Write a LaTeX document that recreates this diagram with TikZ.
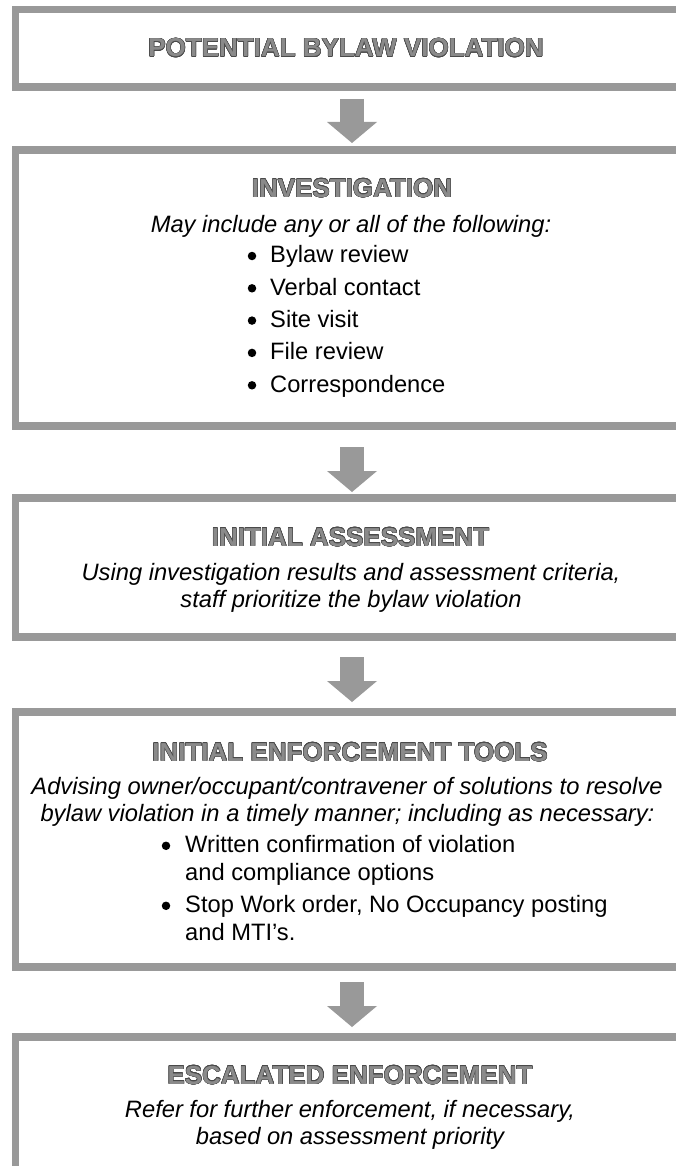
\documentclass[tikz,border=0pt]{standalone}
\usepackage{fontspec}
\setmainfont{Liberation Sans}
\usepackage{contour}
\usetikzlibrary{arrows.meta}
\definecolor{boxgray}{HTML}{999999}
\definecolor{headfill}{HTML}{8A8A8A}
\definecolor{headline}{HTML}{4A4A4A}
\contourlength{0.45pt}
\contournumber{16}
\newcommand{\headtxt}[1]{\contour{headline}{#1}}
\begin{document}
\begin{tikzpicture}[x=1pt,y=-1pt,
  flowbox/.style={draw=boxgray, line width=7.5pt, minimum width=673pt, inner sep=0pt},
  head/.style={anchor=base, inner sep=0pt, font=\fontsize{26}{30}\selectfont\bfseries, text=headfill},
  desc/.style={anchor=base, inner sep=0pt, font=\fontsize{23.7}{28}\selectfont\itshape},
  item/.style={anchor=base west, inner sep=0pt, font=\fontsize{23.7}{28}\selectfont},
  dotmark/.style={circle, fill=black, inner sep=0pt, minimum size=8.5pt},
  flowarrow/.style={draw=boxgray, line width=24pt, -{Triangle[length=21pt,width=50pt,line width=0pt]}}]
\useasboundingbox (0,0) rectangle (676,1166);
\clip (0,0) rectangle (676,1166);
\fill[white] (0,0) rectangle (676,1166);

% boxes
\node[flowbox, minimum height=77.3pt] (b1) at (352,48.35) {};
\node[flowbox, minimum height=276pt] (b2) at (352,288) {};
\node[flowbox, minimum height=139pt] (b3) at (352,567.5) {};
\node[flowbox, minimum height=255pt] (b4) at (352,839.5) {};
\node[flowbox, minimum height=163pt] (b5) at (352,1118.5) {};

% arrows
\draw[flowarrow, shorten <=8.25pt, shorten >=3.25pt] (b1.south) -- (b2.north);
\draw[flowarrow, shorten <=17.25pt, shorten >=2.25pt] (b2.south) -- (b3.north);
\draw[flowarrow, shorten <=16.25pt, shorten >=6.25pt] (b3.south) -- (b4.north);
\draw[flowarrow, shorten <=11.25pt, shorten >=6.25pt] (b4.south) -- (b5.north);

% box 1
\node[head] (t1) at (346,56.7) {\headtxt{POTENTIAL BYLAW VIOLATION}};

% box 2
\node[head] (t2) at (352,197.3) {\headtxt{INVESTIGATION}};
\node[desc] (d2) at (351,232.5) {May include any or all of the following:};
\node[dotmark] (p21) at (252,256) {};
\node[item] (i21) at (270,262.7) {Bylaw review};
\node[dotmark] (p22) at (252,288.3) {};
\node[item] (i22) at (270,295) {Verbal contact};
\node[dotmark] (p23) at (252,320.6) {};
\node[item] (i23) at (270,327.3) {Site visit};
\node[dotmark] (p24) at (252,352.9) {};
\node[item] (i24) at (270,359.6) {File review};
\node[dotmark] (p25) at (252,385.3) {};
\node[item] (i25) at (270,392) {Correspondence};

% box 3
\node[head] (t3) at (350.5,546) {\headtxt{INITIAL ASSESSMENT}};
\node[desc] (d31) at (351,580.5) {Using investigation results and assessment criteria,};
\node[desc] (d32) at (351,607.5) {staff prioritize the bylaw violation};

% box 4
\node[head] (t4) at (350,761) {\headtxt{INITIAL ENFORCEMENT TOOLS}};
\node[desc] (d41) at (347,794.5) {Advising owner/occupant/contravener of solutions to resolve};
\node[desc] (d42) at (347.5,821) {bylaw violation in a timely manner; including as necessary:};
\node[dotmark] (p41) at (166,845.8) {};
\node[item] (i41) at (185,852.5) {Written confirmation of violation};
\node[item] (i42) at (185,880.5) {and compliance options};
\node[dotmark] (p42) at (166,905.8) {};
\node[item] (i43) at (185,912.5) {Stop Work order, No Occupancy posting};
\node[item] (i44) at (185,940.5) {and MTI’s.};

% box 5
\node[head] (t5) at (350,1084) {\headtxt{ESCALATED ENFORCEMENT}};
\node[desc] (d51) at (350,1117.5) {Refer for further enforcement, if necessary,};
\node[desc] (d52) at (350,1144.5) {based on assessment priority};
\end{tikzpicture}
\end{document}
